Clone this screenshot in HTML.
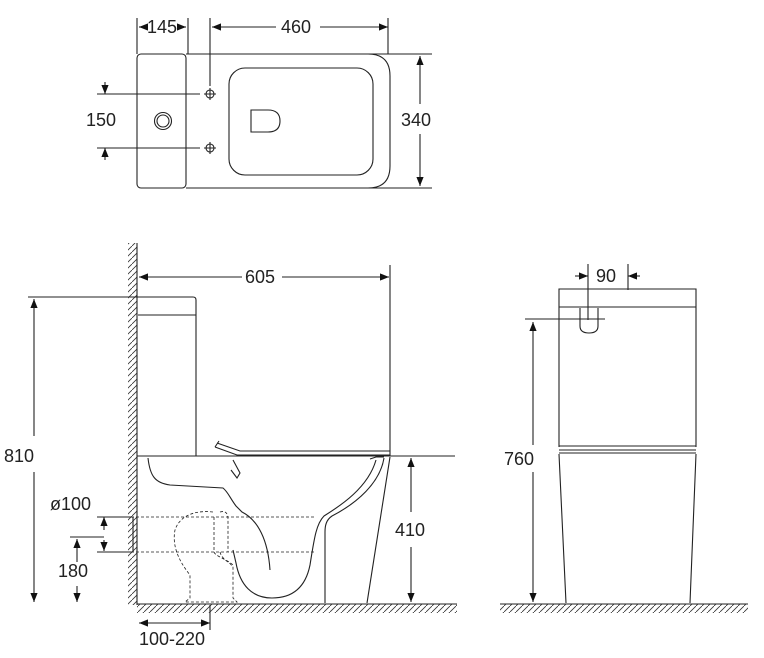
<!DOCTYPE html>
<html><head><meta charset="utf-8"><style>
html,body{margin:0;padding:0;background:#fff;}
svg{display:block;}
text{font-family:"Liberation Sans",sans-serif;font-size:18px;fill:#222;}
</style></head><body>
<svg width="764" height="658" viewBox="0 0 764 658" xmlns="http://www.w3.org/2000/svg">
<defs>
<pattern id="hv" width="6" height="6" patternUnits="userSpaceOnUse"><path d="M-1,7 L7,-1" stroke="#333" stroke-width="0.8"/></pattern>
<marker id="ar" viewBox="0 0 10 10" refX="10" refY="5" markerWidth="9" markerHeight="9" orient="auto-start-reverse" markerUnits="userSpaceOnUse"><path d="M0,1 L10,5 L0,9z" fill="#111"/></marker>
</defs>
<g fill="none" stroke="#222" stroke-width="1.1">
<!-- TOP VIEW -->
<rect x="137" y="54" width="49" height="134" rx="4"/>
<path d="M186,54 H368 Q390,54 390,76 V166 Q390,188 368,188 H186"/>
<rect x="229" y="68" width="144" height="107" rx="16"/>
<circle cx="163" cy="121" r="8.5"/><circle cx="163" cy="121" r="6"/>
<path d="M251,110 H268 Q280,110 280,121 Q280,132 268,132 H251z"/>
<circle cx="210" cy="94" r="4"/><path d="M204,94 H216 M210,88 V100"/>
<circle cx="210" cy="148" r="4"/><path d="M204,148 H216 M210,142 V154"/>
<path d="M137,18 V54 M188,18 V54 M210,18 V86 M388,18 V54"/>
<path d="M290,54 H432 M290,188 H432"/>
<path d="M97,94 H200 M97,148 H200" stroke-width="0.9"/>
<path d="M139,27 H147" marker-start="url(#ar)"/><path d="M179,27 H186" marker-end="url(#ar)"/>
<path d="M212,27 H276" marker-start="url(#ar)"/><path d="M320,27 H388" marker-end="url(#ar)"/>
<path d="M420,56 V104" marker-start="url(#ar)"/><path d="M420,134 V186" marker-end="url(#ar)"/>
<path d="M105,82 V94" marker-end="url(#ar)"/><path d="M105,160 V148" marker-end="url(#ar)"/>

<!-- SIDE VIEW -->
<rect x="128" y="243" width="9" height="362" fill="url(#hv)" stroke="none"/>
<path d="M137,243 V605"/>
<rect x="137" y="604" width="320" height="9" fill="url(#hv)" stroke="none"/>
<path d="M137,604 H457"/>
<path d="M138,297 H193 Q196,297 196,300 V456 M138,315 H196"/>
<path d="M137,456 H455"/>
<path d="M390,265 V456"/>
<path d="M28,297 H138"/>
<path d="M139,277 H242" marker-start="url(#ar)"/><path d="M282,277 H389" marker-end="url(#ar)"/>
<path d="M34,436 V299" marker-end="url(#ar)"/><path d="M34,472 V602" marker-end="url(#ar)"/>
<path d="M411,458 V512" marker-start="url(#ar)"/><path d="M411,547 V602" marker-end="url(#ar)"/>
<!-- seat -->
<path d="M217,443 L240,451 H390 M215,447 L237,455 H390 M219,441 L215,447"/>
<path d="M233,460 L240,473 L237,478 L231,470"/>
<!-- bowl -->
<path d="M390,457 L367,603"/>
<path d="M384,458 C380,483 357,503 332,516 C326,520 325,526 325,532 V603"/>
<path d="M376,460 C368,488 340,506 324,516 C316,524 314,540 310,565 C305,590 290,598 272,598 C252,598 240,585 236,563 L233,550"/>
<path d="M148,458 C150,476 155,483 170,485 L223,488 C228,492 230,498 236,506 L242,512 C258,520 268,540 270,570"/>
<path d="M370,459 L376,457 H384" />
<!-- dashed pipe -->
<g stroke-dasharray="3,2" stroke-width="0.8">
<path d="M131,517 H315 M131,552 H315"/>
<path d="M213,512 C196,510 180,515 175,530 C172,545 178,560 190,575 V598 L185,602 H237 L233,598 V565 C228,560 215,556 214,552 V516"/>
<path d="M220,512 C227,510 228,515 228,520 V552 M220,552 C222,560 230,562 232,566"/>
</g>
<path d="M128,517 H133 V552 H128"/>
<path d="M97,517 H131 M97,552 H131 M70,537 H104" stroke-width="0.9"/>
<path d="M104,530 V517" marker-end="url(#ar)"/><path d="M104,540 V551" marker-end="url(#ar)"/>
<path d="M77,562 V539" marker-end="url(#ar)"/><path d="M77,586 V602" marker-end="url(#ar)"/>
<path d="M210,605 V630"/><path d="M139,623 H210" marker-start="url(#ar)" marker-end="url(#ar)"/>

<!-- FRONT VIEW -->
<rect x="500" y="604" width="248" height="9" fill="url(#hv)" stroke="none"/>
<path d="M500,604 H748"/>
<path d="M559,447 V289 H696 V447 M559,307 H696"/>
<path d="M559,446 H696 M559,450 H696 M559,453 H696"/>
<path d="M559,454 L566,603 M696,454 L690,603"/>
<path d="M580,308 V326 Q580,333 589,333 Q598,333 598,326 V308"/>
<path d="M588,264 V320 M628,264 V290 M525,319 H605"/>
<path d="M575,276 H588" marker-end="url(#ar)"/><path d="M640,276 H628" marker-end="url(#ar)"/>
<path d="M533,445 V322" marker-end="url(#ar)"/><path d="M533,472 V602" marker-end="url(#ar)"/>
</g>
<text x="147" y="33">145</text>
<text x="281" y="33">460</text>
<text x="401" y="126">340</text>
<text x="86" y="126">150</text>
<text x="245" y="283">605</text>
<text x="4" y="462">810</text>
<text x="395" y="536">410</text>
<text x="50" y="510">ø100</text>
<text x="58" y="577">180</text>
<text x="139" y="645">100-220</text>
<text x="596" y="282">90</text>
<text x="504" y="465">760</text>
</svg>
</body></html>
